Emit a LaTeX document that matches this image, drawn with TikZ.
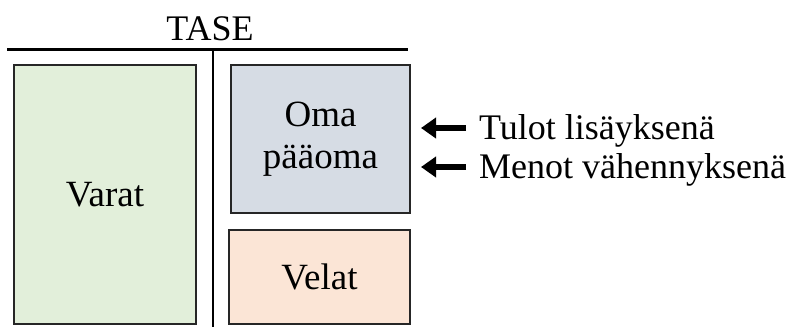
\documentclass[tikz,border=0pt]{standalone}
\usepackage{fontspec}
\setmainfont{Liberation Serif}
\usetikzlibrary{arrows.meta}
\definecolor{varatgreen}{HTML}{E2EFDA}
\definecolor{omablue}{HTML}{D6DCE4}
\definecolor{velatorange}{HTML}{FBE5D6}
\tikzset{
  tilibox/.style={draw=black!85, line width=2pt, inner sep=0pt, align=center, font=\fontsize{37}{42}\selectfont},
  teksti/.style={inner sep=0pt, font=\fontsize{36}{40}\selectfont},
  nuoli/.style={line width=6.5pt, -{Triangle[length=15pt,width=20pt]}, shorten >=10pt}
}
\begin{document}
\begin{tikzpicture}[x=1pt,y=-1pt]

\useasboundingbox (0,0) rectangle (788,327);

\node[teksti, anchor=base] (tase) at (210,40) {TASE};
\coordinate (vasen) at (7,49);
\coordinate (oikea) at (408,49);
\coordinate (yla) at (213,49);
\coordinate (ala) at (213,327);
\draw[line width=3pt] (vasen) -- (oikea);
\draw[line width=2.5pt] (yla) -- (ala);

\node[tilibox, fill=varatgreen, minimum width=182pt, minimum height=259pt] (varat) at (105,194.5) {Varat};
\node[tilibox, fill=omablue, minimum width=179pt, minimum height=148pt] (oma) at (320.5,139) {Oma\\pääoma};
\node[tilibox, fill=velatorange, minimum width=181pt, minimum height=94pt] (velat) at (319.5,277) {Velat};

\node[teksti, anchor=base west] (tulot) at (479,139) {Tulot lisäyksenä};
\node[teksti, anchor=base west] (menot) at (479,178) {Menot vähennyksenä};
\coordinate (tulotalku) at (466,128);
\coordinate (menotalku) at (466,167);
\draw[nuoli] (tulotalku) -- (tulotalku -| oma.east);
\draw[nuoli] (menotalku) -- (menotalku -| oma.east);

\end{tikzpicture}
\end{document}
